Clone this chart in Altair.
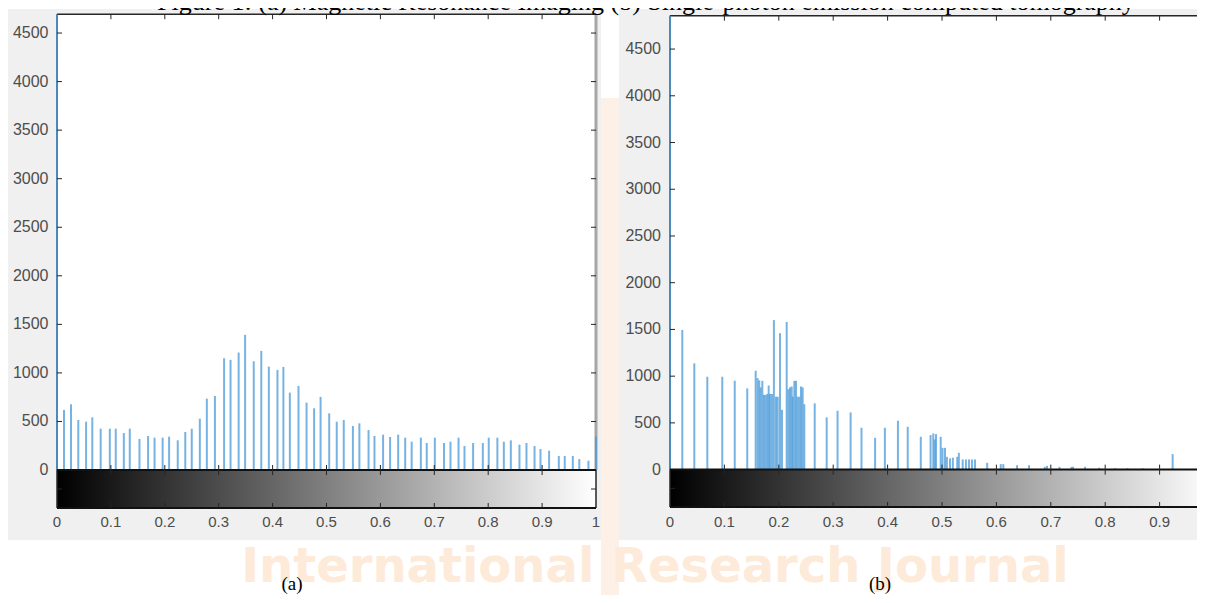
import altair as alt
import pandas as pd

W, H = 1189, 587

title_text = "Figure 1: (a) Magnetic Resonance Imaging (b) Single-photon emission computed tomography"
label_a = "(a)"
label_b = "(b)"
watermark_text = "International Research Journal"

x_ticks = [0, 0.1, 0.2, 0.3, 0.4, 0.5, 0.6, 0.7, 0.8, 0.9, 1]
x_ticks_b = [0, 0.1, 0.2, 0.3, 0.4, 0.5, 0.6, 0.7, 0.8, 0.9]
y_ticks = [0, 500, 1000, 1500, 2000, 2500, 3000, 3500, 4000, 4500]

# (a) Magnetic Resonance Imaging histogram
a_x = [0.0, 0.013, 0.026, 0.0395, 0.054, 0.0655, 0.081, 0.098, 0.109, 0.124,
       0.135, 0.153, 0.169, 0.181, 0.196, 0.208, 0.224, 0.238, 0.250, 0.265,
       0.278, 0.293, 0.310, 0.322, 0.337, 0.349, 0.365, 0.379, 0.393, 0.409,
       0.420, 0.432, 0.448, 0.463, 0.477, 0.489, 0.505, 0.519, 0.532, 0.549,
       0.561, 0.578, 0.589, 0.605, 0.618, 0.633, 0.646, 0.658, 0.675, 0.686,
       0.701, 0.718, 0.730, 0.745, 0.756, 0.772, 0.790, 0.801, 0.817, 0.829,
       0.842, 0.858, 0.871, 0.886, 0.897, 0.913, 0.931, 0.942, 0.957, 0.969,
       0.986, 1.0]
a_count = [4694, 619, 677, 515, 498, 543, 426, 426, 426, 381,
           426, 320, 351, 333, 333, 344, 306, 392, 426, 529,
           735, 763, 1151, 1134, 1210, 1392, 1120, 1227, 1065, 1031,
           1062, 797, 866, 694, 636, 753, 584, 498, 515, 454,
           481, 412, 351, 364, 340, 364, 333, 292, 333, 278,
           333, 278, 292, 333, 247, 278, 278, 333, 333, 292,
           306, 261, 278, 247, 216, 199, 144, 144, 144, 113,
           96, 344]

# (b) SPECT histogram
b_x = [0.0, 0.0226, 0.0447, 0.0686, 0.0961, 0.119, 0.142,
       0.1575, 0.161, 0.164, 0.1667, 0.1697, 0.1728, 0.176, 0.179, 0.1814, 0.1838,
       0.1875, 0.191, 0.1949, 0.198, 0.2022, 0.2059, 0.2145, 0.2175, 0.2206, 0.2237,
       0.2255, 0.2285, 0.2316, 0.2347, 0.2377, 0.2408, 0.2439, 0.2469,
       0.266, 0.288, 0.308, 0.332, 0.352, 0.377, 0.395, 0.419, 0.437,
       0.461, 0.479, 0.484, 0.4866, 0.489, 0.4976, 0.501, 0.5055, 0.509, 0.5147,
       0.520, 0.528, 0.531, 0.538, 0.544, 0.5496, 0.555, 0.5607,
       0.583, 0.608, 0.6127, 0.638, 0.660, 0.689, 0.693, 0.716, 0.738, 0.741,
       0.763, 0.789, 0.818, 0.841, 0.869, 0.924]
b_count = [4857, 1494, 1137, 994, 994, 951, 869,
           1058, 980, 955, 880, 950, 800, 800, 810, 900, 810,
           810, 1600, 780, 780, 1460, 640, 1580, 860, 880, 890,
           780, 950, 950, 780, 780, 890, 880, 700,
           709, 559, 630, 612, 448, 340, 448, 523, 458,
           351, 369, 387, 323, 380, 351, 233, 233, 137, 120,
           128, 137, 180, 109, 109, 109, 109, 109,
           73, 59, 59, 48, 48, 30, 40, 30, 30, 30,
           30, 20, 15, 15, 15, 166]

BAR = "#4a9ad8"
INK = "#262626"
LBL = "#4d4d4d"
SANS = "Liberation Sans"
SERIF = "Liberation Serif"
GREY = "#f0f0f0"

one = pd.DataFrame({"k": [0]})


def deco_rect(x, x2, y, y2, color):
    return alt.Chart(one).mark_rect(color=color).encode(
        x=alt.value(x), x2=alt.value(x2), y=alt.value(y), y2=alt.value(y2))


def text_layer(txt, x, y, font, size, color, weight="normal", baseline="middle"):
    return alt.Chart(pd.DataFrame({"t": [txt]})).mark_text(
        font=font, fontSize=size, color=color, fontWeight=weight,
        align="center", baseline=baseline
    ).encode(x=alt.value(x), y=alt.value(y), text="t:N")


def panel(xs, counts, ymin, ymax, xr, yr, xlab, ylab_right, xlab_y, right_col):
    k = (yr[0] - yr[1]) / (ymax - ymin)   # px per count
    kx = xr[1] - xr[0]                    # px per x unit
    sx = alt.Scale(domain=[0, 1], range=xr, nice=False, zero=False)
    sy = alt.Scale(domain=[ymin, ymax], range=yr, nice=False, zero=False)

    def segs(rows, color, width):
        df = pd.DataFrame(rows, columns=["x", "x2", "y", "y2"])
        return alt.Chart(df).mark_rule(color=color, strokeWidth=width).encode(
            x=alt.X("x:Q", scale=sx, axis=None),
            x2="x2:Q",
            y=alt.Y("y:Q", scale=sy, axis=None),
            y2="y2:Q")

    plot_bg = alt.Chart(pd.DataFrame({"x": [0], "x2": [1], "y": [0], "y2": [ymax]})).mark_rect(
        color="white").encode(
        x=alt.X("x:Q", scale=sx, axis=None), x2="x2:Q",
        y=alt.Y("y:Q", scale=sy, axis=None), y2="y2:Q")

    grad = alt.LinearGradient(
        gradient="linear",
        stops=[alt.GradientStop(color="#000000", offset=0),
               alt.GradientStop(color="#ffffff", offset=1)],
        x1=0, x2=1, y1=0, y2=0)
    cbar = alt.Chart(pd.DataFrame({"x": [0], "x2": [1], "y": [ymin], "y2": [0]})).mark_rect(
        fill=grad).encode(
        x=alt.X("x:Q", scale=sx, axis=None), x2="x2:Q",
        y=alt.Y("y:Q", scale=sy, axis=None), y2="y2:Q")

    bars = alt.Chart(pd.DataFrame({"x": xs, "count": counts})).transform_calculate(
        base="0").mark_rule(color=BAR, strokeWidth=2, opacity=0.75).encode(
        x=alt.X("x:Q", scale=sx, axis=None),
        y=alt.Y("count:Q", scale=sy, axis=None),
        y2="base:Q")

    outline = segs([(0, 1, ymax, ymax), (0, 0, ymin, ymax), (1, 1, ymin, 0)], INK, 1.5)
    right_hist = segs([(1, 1, 0, ymax)], right_col, 3)
    base_lines = segs([(0, 1, 0, 0), (0, 1, ymin, ymin)], "#111111", 2)

    inner = [t for t in x_ticks if 0 < t < 1]
    tl = 5.0
    tick_rows = []
    for t in inner:
        tick_rows.append((t, t, ymax, ymax - tl / k))
        tick_rows.append((t, t, -tl / k, tl / k))
        tick_rows.append((t, t, ymin, ymin + tl / k))
    for v in y_ticks[1:]:
        tick_rows.append((0, tl / kx, v, v))
        tick_rows.append((1 - tl / kx, 1, v, v))
    tick_rows.append((0, tl / kx, ymin / 2, ymin / 2))
    tick_rows.append((1 - tl / kx, 1, ymin / 2, ymin / 2))
    ticks = segs(tick_rows, INK, 1)

    # tick labels, placed through the panel scales
    xl_df = pd.DataFrame({"v": xlab, "t": [f"{v:g}" for v in xlab]})
    x_labels = alt.Chart(xl_df).mark_text(
        font=SANS, fontSize=15, color=LBL, align="center", baseline="middle"
    ).encode(x=alt.X("v:Q", scale=sx, axis=None), y=alt.value(xlab_y), text="t:N")

    yl_df = pd.DataFrame({"v": y_ticks, "t": [f"{v:d}" for v in y_ticks]})
    y_labels = alt.Chart(yl_df).mark_text(
        font=SANS, fontSize=16, color=LBL, align="right", baseline="middle"
    ).encode(x=alt.value(ylab_right), y=alt.Y("v:Q", scale=sy, axis=None), text="t:N")

    return alt.layer(plot_bg, cbar, outline, right_hist, bars, base_lines, ticks,
                     x_labels, y_labels)


panel_a = panel(a_x, a_count, -391, 4694, [49, 588], [500, 6.2], x_ticks, 40.5, 513.5, "#a6a6a6")
panel_b = panel(b_x, b_count, -400, 4857, [662, 1206], [499, 7.7], x_ticks_b, 653, 513.5, "#a6a6a6")

bg_a = deco_rect(-1, 593, 1, 532, GREY)
bg_b = deco_rect(611, 1200, 1, 532, GREY)
strip = deco_rect(593, 611, 90, 590, "#fdf1e7")
wm = text_layer(watermark_text, 647, 574, "DejaVu Sans", 48, "#feead8", weight="bold",
                baseline="alphabetic")
lab_a = text_layer(label_a, 284, 576, SERIF, 19, "#000000")
lab_b = text_layer(label_b, 872, 576, SERIF, 19, "#000000")
title = text_layer(title_text, 638, 2, SERIF, 26, "#000000", baseline="alphabetic")

chart = alt.layer(
    strip, wm, bg_a, bg_b, panel_a, panel_b, lab_a, lab_b, title
).resolve_scale(x="independent", y="independent").properties(
    width=W, height=H, padding=0,
    autosize=alt.AutoSizeParams(type="none"),
    background="white"
).configure_view(strokeWidth=0)

chart.save("out.html", embed_options={"renderer": "svg", "actions": False})
